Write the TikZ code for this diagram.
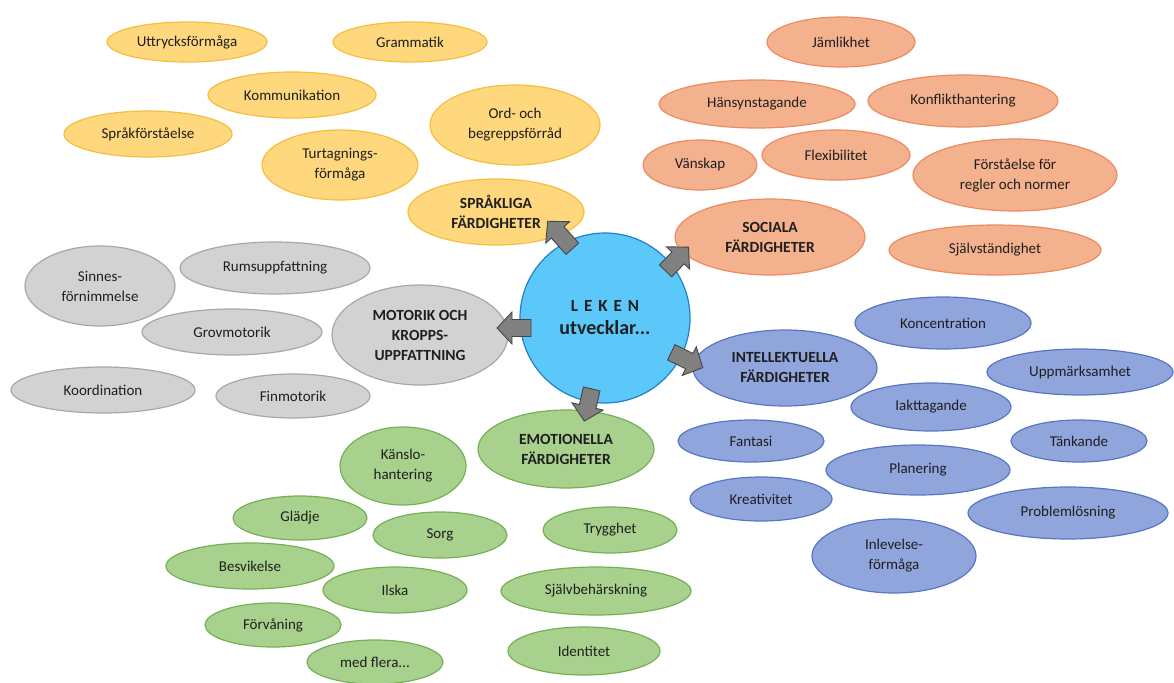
\documentclass[tikz,border=0pt]{standalone}
\usepackage{fontspec}
\setmainfont{Carlito}
\usetikzlibrary{shapes.geometric}
\definecolor{yfill}{RGB}{255,216,125}
\definecolor{ydraw}{RGB}{244,190,62}
\definecolor{ofill}{RGB}{244,177,141}
\definecolor{odraw}{RGB}{236,140,96}
\definecolor{gfill}{RGB}{210,210,210}
\definecolor{gdraw}{RGB}{168,168,168}
\definecolor{bfill}{RGB}{143,165,220}
\definecolor{bdraw}{RGB}{88,118,195}
\definecolor{nfill}{RGB}{169,209,142}
\definecolor{ndraw}{RGB}{118,176,84}
\definecolor{cfill}{RGB}{92,200,250}
\definecolor{cdraw}{RGB}{32,128,200}
\definecolor{afill}{RGB}{128,128,128}
\definecolor{adraw}{RGB}{70,70,70}
\tikzset{
  el/.style={ellipse, inner sep=0pt, line width=1.2pt, align=center,
    font=\fontsize{15}{20}\selectfont, text=black!88},
  yel/.style={el, fill=yfill, draw=ydraw},
  ora/.style={el, fill=ofill, draw=odraw},
  gry/.style={el, fill=gfill, draw=gdraw},
  blu/.style={el, fill=bfill, draw=bdraw},
  grn/.style={el, fill=nfill, draw=ndraw},
  hd/.style={font=\fontsize{15.5}{20}\selectfont\bfseries},
  sz/.style 2 args={minimum width=#1pt, minimum height=#2pt},
  blockarrowline/.style={draw=adraw, fill=afill, line width=0.9pt, line join=miter},
  barrow/.pic={
    \path[blockarrowline] (-#1/2,-8.5) -- (#1/2-15,-8.5) -- (#1/2-15,-16) -- (#1/2,0)
      -- (#1/2-15,16) -- (#1/2-15,8.5) -- (-#1/2,8.5) -- cycle;
  },
}
\begin{document}
\begin{tikzpicture}[x=1pt,y=-1pt]
\useasboundingbox (0,0) rectangle (1174,682);
% yellow
\node[yel, sz={160}{40}] (utt) at (187,42) {Uttrycksförmåga};
\node[yel, sz={154}{40}] (gram) at (410,42) {Grammatik};
\node[yel, sz={168}{46}] (komm) at (292,95) {Kommunikation};
\node[yel, sz={168}{46}] (spf) at (148,134) {Språkförståelse};
\node[yel, sz={170}{80}] (ord) at (515,125) {Ord- och\\begreppsförråd};
\node[yel, sz={156}{70}] (turt) at (340,165) {Turtagnings-\\förmåga};
\node[yel, sz={176}{66}, hd] (sprak) at (496,212) {SPRÅKLIGA\\FÄRDIGHETER};
% orange
\node[ora, sz={148}{50}] (jaml) at (841,42) {Jämlikhet};
\node[ora, sz={196}{48}] (hans) at (757,104) {Hänsynstagande};
\node[ora, sz={190}{52}] (konf) at (963,101) {Konflikthantering};
\node[ora, sz={114}{50}] (vans) at (700,165) {Vänskap};
\node[ora, sz={148}{50}] (flex) at (836,155) {Flexibilitet};
\node[ora, sz={204}{72}] (forst) at (1015,175) {Förståelse för\\regler och normer};
\node[ora, sz={190}{76}, hd] (soc) at (770,237) {SOCIALA\\FÄRDIGHETER};
\node[ora, sz={212}{50}] (sjst) at (995,250) {Självständighet};
% gray
\node[gry, sz={150}{80}] (sinn) at (100,286) {Sinnes-\\förnimmelse};
\node[gry, sz={190}{52}] (rums) at (275,268) {Rumsuppfattning};
\node[gry, sz={180}{46}] (grov) at (232,332) {Grovmotorik};
\node[gry, sz={176}{100}, hd] (mot) at (420,335) {MOTORIK OCH\\KROPPS-\\UPPFATTNING};
\node[gry, sz={184}{46}] (koord) at (103,390) {Koordination};
\node[gry, sz={154}{44}] (finm) at (293,396) {Finmotorik};
% center
\node[circle, fill=cfill, draw=cdraw, line width=1.2pt, minimum size=170pt, inner sep=0pt, align=center, text=black!88] (leken) at (605,318)
  {{\fontsize{17}{20}\selectfont\bfseries L\hspace{6pt}E\hspace{6pt}K\hspace{6pt}E\hspace{6pt}N}\\[8pt]{\fontsize{20}{22}\selectfont\bfseries utvecklar...}};
% blue
\node[blu, sz={176}{52}] (konc) at (943,323) {Koncentration};
\node[blu, sz={184}{76}, hd] (int) at (785,368) {INTELLEKTUELLA\\FÄRDIGHETER};
\node[blu, sz={186}{46}] (uppm) at (1080,372) {Uppmärksamhet};
\node[blu, sz={160}{48}] (iakt) at (931,407) {Iakttagande};
\node[blu, sz={146}{42}] (fant) at (751,441) {Fantasi};
\node[blu, sz={136}{42}] (tank) at (1079,441) {Tänkande};
\node[blu, sz={184}{50}] (plan) at (918,470) {Planering};
\node[blu, sz={142}{44}] (krea) at (761,499) {Kreativitet};
\node[blu, sz={200}{52}] (prob) at (1068,513) {Problemlösning};
\node[blu, sz={164}{74}] (inlev) at (894,556) {Inlevelse-\\förmåga};
% green
\node[grn, sz={176}{78}, hd] (emo) at (566,449) {EMOTIONELLA\\FÄRDIGHETER};
\node[grn, sz={126}{78}] (kans) at (403,466) {Känslo-\\hantering};
\node[grn, sz={134}{44}] (glad) at (300,518) {Glädje};
\node[grn, sz={134}{46}] (sorg) at (440,535) {Sorg};
\node[grn, sz={134}{46}] (tryg) at (610,530) {Trygghet};
\node[grn, sz={168}{46}] (besv) at (250,566) {Besvikelse};
\node[grn, sz={144}{46}] (ilsk) at (395,590) {Ilska};
\node[grn, sz={190}{48}] (sjbh) at (596,591) {Självbehärskning};
\node[grn, sz={136}{44}] (forv) at (273,625) {Förvåning};
\node[grn, sz={136}{44}] (medf) at (375,662) {med flera...};
\node[grn, sz={152}{48}] (iden) at (584,651) {Identitet};
% block arrows
\pic[rotate=132] (a1) at (560,235) {barrow=37};
\pic[rotate=46] (a2) at (677,259) {barrow=33};
\pic[rotate=180] (a3) at (514,328) {barrow=34};
\pic[rotate=-26] (a4) at (687,360) {barrow=35};
\pic[rotate=-103] (a5) at (588,405) {barrow=33};
\end{tikzpicture}
\end{document}
